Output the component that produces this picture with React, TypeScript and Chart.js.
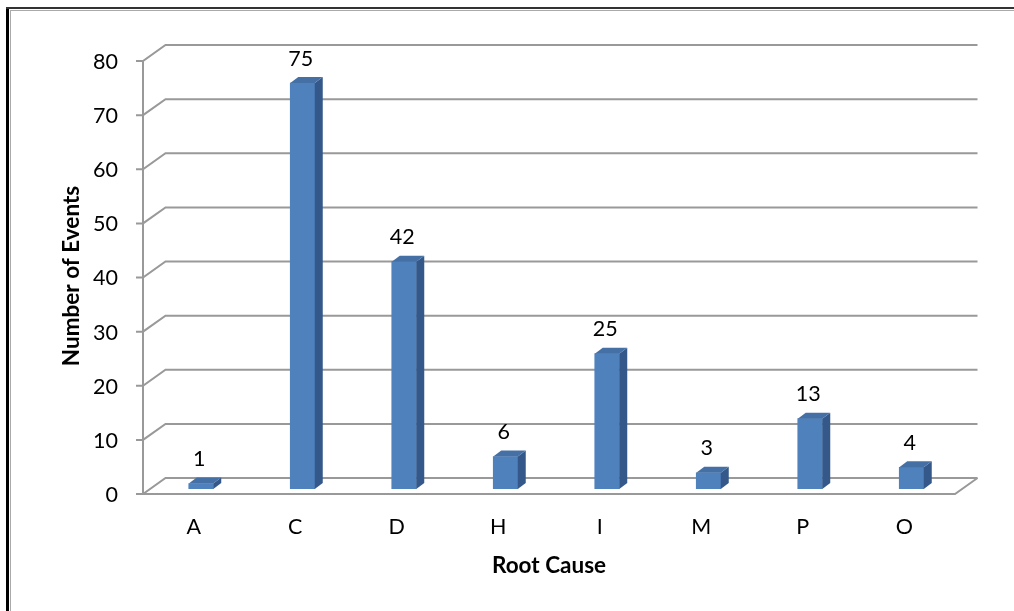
import React, { useEffect, useRef } from "react";
import { Chart, registerables } from "chart.js";
Chart.register(...registerables);

const categories = ["A", "C", "D", "H", "I", "M", "P", "O"];
const events = [1, 75, 42, 6, 25, 3, 13, 4];
const yTicks = [0, 10, 20, 30, 40, 50, 60, 70, 80];
const xTitle = "Root Cause";
const yTitle = "Number of Events";

const FONT = "Lato, 'Open Sans', sans-serif";
const WALL_DX = 22.5;
const WALL_DY = -16;
const BAR_DX = 7.25;
const BAR_DY = -5;
const SIDE_DX = 8;
const SIDE_DY = -6;
const GRID = "#999999";

const threeD = {
  id: "threeD",
  beforeDatasetsDraw(chart: any) {
    const ctx = chart.ctx as CanvasRenderingContext2D;
    const { left, right } = chart.chartArea;
    const ys = chart.scales.y;
    const xs = chart.scales.x;
    ctx.save();
    // frame
    ctx.fillStyle = "#000";
    ctx.fillRect(6, 7, 3, 611);
    ctx.fillStyle = "#333";
    ctx.fillRect(6, 7, 1008, 2);
    ctx.fillStyle = "#aaa";
    ctx.fillRect(10, 10, 1, 601);
    ctx.fillRect(10, 10, 1004, 1);

    ctx.strokeStyle = GRID;
    ctx.lineWidth = 2;
    ctx.lineCap = "butt";
    // back wall gridlines + left wall diagonals
    yTicks.forEach((v) => {
      const yf = ys.getPixelForValue(v);
      const yb = yf + WALL_DY;
      ctx.beginPath();
      ctx.moveTo(left - 7, yf);
      ctx.lineTo(left, yf);
      ctx.lineTo(left + WALL_DX, yb);
      ctx.lineTo(right + WALL_DX, yb);
      ctx.stroke();
    });
    // front vertical axis and floor
    const y0 = ys.getPixelForValue(0);
    const yTop = ys.getPixelForValue(yTicks[yTicks.length - 1]);
    ctx.beginPath();
    ctx.moveTo(left, yTop);
    ctx.lineTo(left, y0);
    ctx.lineTo(right, y0);
    ctx.lineTo(right + WALL_DX, y0 + WALL_DY);
    ctx.stroke();

    // tick labels
    ctx.fillStyle = "#000";
    ctx.font = `21.5px ${FONT}`;
    ctx.textAlign = "right";
    ctx.textBaseline = "middle";
    yTicks.forEach((v) => {
      ctx.fillText(String(v), left - 25, ys.getPixelForValue(v) + 1);
    });
    ctx.textAlign = "center";
    categories.forEach((c, i) => {
      ctx.fillText(c, xs.getPixelForValue(i), 527);
    });
    // titles
    ctx.font = `bold 22.5px ${FONT}`;
    ctx.fillText(xTitle, 549, 566);
    ctx.translate(72, 276);
    ctx.rotate(-Math.PI / 2);
    ctx.fillText(yTitle, 0, 0);
    ctx.restore();

    ctx.save();
    ctx.translate(BAR_DX, BAR_DY);
  },
  afterDatasetsDraw(chart: any) {
    const ctx = chart.ctx as CanvasRenderingContext2D;
    const meta = chart.getDatasetMeta(0);
    meta.data.forEach((bar: any) => {
      const l = bar.x - bar.width / 2;
      const r = bar.x + bar.width / 2;
      const t = bar.y;
      const b = bar.base;
      // side face
      ctx.fillStyle = "#34588a";
      ctx.beginPath();
      ctx.moveTo(r, b);
      ctx.lineTo(r, t);
      ctx.lineTo(r + SIDE_DX, t + SIDE_DY);
      ctx.lineTo(r + SIDE_DX, b + SIDE_DY);
      ctx.closePath();
      ctx.fill();
      // top face
      ctx.fillStyle = "#4470a6";
      ctx.beginPath();
      ctx.moveTo(l, t);
      ctx.lineTo(r, t);
      ctx.lineTo(r + SIDE_DX, t + SIDE_DY);
      ctx.lineTo(l + SIDE_DX, t + SIDE_DY);
      ctx.closePath();
      ctx.fill();
    });
    ctx.restore();
    // data labels
    ctx.save();
    ctx.fillStyle = "#000";
    ctx.font = `21.5px ${FONT}`;
    ctx.textAlign = "center";
    ctx.textBaseline = "middle";
    meta.data.forEach((bar: any, i: number) => {
      ctx.fillText(String(events[i]), bar.x + 5.5, bar.y + BAR_DY - 24.5);
    });
    ctx.restore();
  },
};

export default function App() {
  const ref = useRef<HTMLCanvasElement>(null);
  useEffect(() => {
    if (!ref.current) return;
    const chart = new Chart(ref.current, {
      type: "bar",
      data: {
        labels: categories,
        datasets: [
          {
            data: events,
            backgroundColor: "#4F81BD",
            borderWidth: 0,
            barThickness: 24.5,
          },
        ],
      },
      options: {
        animation: false,
        responsive: true,
        maintainAspectRatio: false,
        layout: { padding: { left: 143, right: 59, top: 61, bottom: 117 } },
        plugins: { legend: { display: false }, tooltip: { enabled: false } },
        scales: {
          x: { display: false, offset: true },
          y: { display: false, min: 0, max: 80 },
        },
      },
      plugins: [threeD],
    });
    return () => chart.destroy();
  }, []);
  return (
    <div style={{ position: "fixed", left: 0, top: 0, width: 1014, height: 611, background: "#fff" }}>
      <canvas ref={ref} />
    </div>
  );
}
